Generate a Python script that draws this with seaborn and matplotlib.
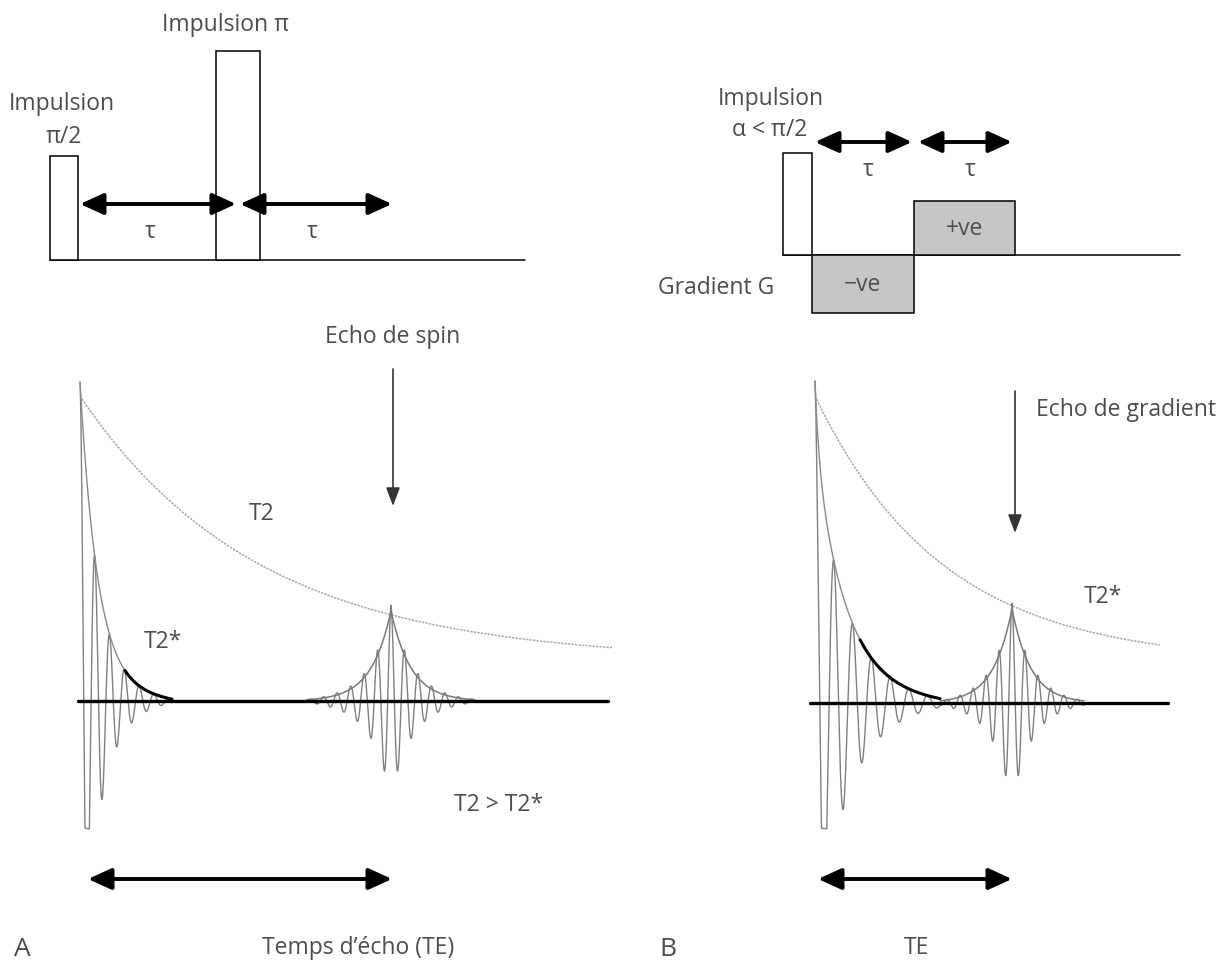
import numpy as np
import matplotlib
matplotlib.use("Agg")
import matplotlib.pyplot as plt
from matplotlib.patches import Rectangle, FancyArrowPatch
import seaborn as sns

sns.set_theme(style="white")
plt.rcParams["font.family"] = ["Open Sans", "DejaVu Sans"]

TXT = "#4d4d4d"
FS = 16.5

# ---------------- data (drawing units = pixels of the figure) ----------------
# Panel A : spin-echo sequence
seqA_base_y = 261
seqA_base_x = [50, 525]
seqA_pulse_x0 = [50, 216]
seqA_pulse_x1 = [78, 260]
seqA_pulse_top = [157, 52]
seqA_tau_from = [80, 240]
seqA_tau_to = [236, 392]
seqA_tau_y = 205
seqA_tau_label_x = [150, 312]
seqA_tau_label_y = 232

# Panel B : gradient-echo sequence
seqB_base_y = 256
seqB_base_x = [783, 1180]
seqB_pulse = [783, 812, 154]
seqB_grad_x0 = [812, 914]
seqB_grad_x1 = [914, 1015]
seqB_grad_level = [314, 202]
seqB_grad_labels = ["\u2212ve", "+ve"]
seqB_tau_from = [815, 918]
seqB_tau_to = [912, 1012]
seqB_tau_y = 143
seqB_tau_label_x = [868, 970]
seqB_tau_label_y = 170

# Signals: FID and echo parameters
fid_x0 = [80, 815]          # start of FID
fid_zero = [702, 704]       # zero line level
fid_slow_amp = [309, 246]   # slow T2* component
fid_slow_tau = [18, 31]
fid_fast_amp = [0, 67]      # initial spike component
fid_fast_tau = [4, 4]
fid_floor = [10, 9]
fid_len = [92, 125]
fid_period = [14.8, 18.8]
fid_bottom = [830, 830]
fid_thick_from = [125, 860]

echo_x = [391, 1012]
echo_height = [90, 94]
echo_tau = [20, 19]
echo_period = [13.5, 13]
echo_halfwidth = [84, 72]

zero_line_x = [(78, 608), (810, 1168)]

t2_x = [(82, 612), (815, 1160)]
t2_amp = [265, 267]
t2_tau = [178, 128]
t2_offset = [40, 40]

# ---------------- figure ----------------
fig = plt.figure(figsize=(12.19, 9.70), dpi=100)
ax = fig.add_axes([0, 0, 1, 1])
ax.set_xlim(0, 1219)
ax.set_ylim(970, 0)
ax.axis("off")


def line(x, y, **kw):
    sns.lineplot(x=np.asarray(x, float), y=np.asarray(y, float), ax=ax,
                 sort=False, estimator=None, legend=False, **kw)


def dbl_arrow(x0, x1, y):
    ax.add_patch(FancyArrowPatch((x0, y), (x1, y),
                                 arrowstyle="<|-|>,head_length=1.1,head_width=0.5",
                                 mutation_scale=13, lw=2.8, color="black",
                                 shrinkA=0, shrinkB=0, zorder=6))


def down_arrow(x, y0, y1):
    ax.add_patch(FancyArrowPatch((x, y0), (x, y1),
                                 arrowstyle="-|>,head_length=0.8,head_width=0.3",
                                 mutation_scale=14, lw=1.2, color="#333333",
                                 shrinkA=0, shrinkB=0))


def txt(x, y, s, ha="center", size=FS):
    ax.text(x, y, s, ha=ha, va="center", fontsize=size, color=TXT)


def fid_env(i, t):
    return (fid_slow_amp[i] * np.exp(-t / fid_slow_tau[i])
            + fid_fast_amp[i] * np.exp(-t / fid_fast_tau[i])
            + fid_floor[i] * (1 - t / fid_len[i]))


# ---- Panel A sequence ----
line(seqA_base_x, [seqA_base_y] * 2, color="black", lw=1.1)
for x0, x1, top in zip(seqA_pulse_x0, seqA_pulse_x1, seqA_pulse_top):
    ax.add_patch(Rectangle((x0, top), x1 - x0, seqA_base_y - top,
                           facecolor="white", edgecolor="black", lw=1.1, zorder=3))
for a, b in zip(seqA_tau_from, seqA_tau_to):
    dbl_arrow(a, b, seqA_tau_y)
for lx in seqA_tau_label_x:
    txt(lx, seqA_tau_label_y, "\u03c4")
txt(62, 104, "Impulsion")
txt(64, 137, "\u03c0/2")
txt(226, 25, "Impulsion \u03c0")

# ---- Panel B sequence ----
line(seqB_base_x, [seqB_base_y] * 2, color="black", lw=1.1)
ax.add_patch(Rectangle((seqB_pulse[0], seqB_pulse[2]), seqB_pulse[1] - seqB_pulse[0],
                       seqB_base_y - seqB_pulse[2], facecolor="white",
                       edgecolor="black", lw=1.1, zorder=3))
for x0, x1, lev, lab in zip(seqB_grad_x0, seqB_grad_x1, seqB_grad_level, seqB_grad_labels):
    ybot, ytop = min(lev, seqB_base_y), max(lev, seqB_base_y)
    ax.add_patch(Rectangle((x0, ybot), x1 - x0, ytop - ybot,
                           facecolor="#c6c6c6", edgecolor="black", lw=1.1, zorder=3))
    ax.text((x0 + x1) / 2, (ybot + ytop) / 2, lab, ha="center", va="center",
            fontsize=FS, color=TXT, zorder=4)
for a, b in zip(seqB_tau_from, seqB_tau_to):
    dbl_arrow(a, b, seqB_tau_y)
for lx in seqB_tau_label_x:
    txt(lx, seqB_tau_label_y, "\u03c4")
txt(771, 99, "Impulsion")
txt(770, 130, "\u03b1 < \u03c0/2")
txt(716, 288, "Gradient G")

# ---- signals ----
for i in range(2):
    z = fid_zero[i]
    # T2 (dotted light) decay curve
    xs = np.linspace(t2_x[i][0], t2_x[i][1], 600)
    ys = z - (t2_amp[i] * np.exp(-(xs - fid_x0[i]) / t2_tau[i]) + t2_offset[i])
    line(xs, ys, color="#a8a8a8", lw=1.1, linestyle=(0, (1.5, 0.8)))

    # FID
    t = np.linspace(0, fid_len[i], 4000)
    env = fid_env(i, t)
    sig = z - env * np.cos(2 * np.pi * t / fid_period[i])
    sig = np.where(sig > fid_bottom[i], np.nan, sig)
    line(fid_x0[i] + t, sig, color="#808080", lw=1.0)
    # T2* envelope (thin grey then thick black)
    te = np.linspace(0, fid_len[i], 800)
    ee = fid_env(i, te)
    xe = fid_x0[i] + te
    line(xe, z - ee, color="#8a8a8a", lw=1.0)
    m = xe >= fid_thick_from[i]
    line(xe[m], z - ee[m], color="black", lw=2.2)

    # echo
    W = echo_halfwidth[i]
    tt = np.linspace(-W, W, 3000)
    envs = echo_height[i] * np.exp(-np.abs(tt) / echo_tau[i]) + 6 * (1 - np.abs(tt) / W)
    sig = z - envs * np.cos(2 * np.pi * tt / echo_period[i])
    line(echo_x[i] + tt, sig, color="#808080", lw=1.0)
    enc = echo_height[i] * np.exp(-np.abs(tt) / echo_tau[i])
    line(echo_x[i] + tt, z - enc, color="#7a7a7a", lw=1.1)

    # zero line
    line(list(zero_line_x[i]), [z, z], color="black", lw=2.4)

# ---- annotations ----
txt(393, 337, "Echo de spin")
down_arrow(393, 370, 507)
down_arrow(1015, 392, 534)
txt(1036, 410, "Echo de gradient", ha="left")
txt(262, 514, "T2")
txt(163, 642, "T2*")
txt(1103, 597, "T2*")
txt(499, 805, "T2 > T2*")

dbl_arrow(88, 392, 880)
dbl_arrow(818, 1012, 880)
txt(358, 948, "Temps d\u2019\u00e9cho (TE)")
txt(916, 948, "TE")
txt(22, 950, "A", size=19)
txt(668, 950, "B", size=19)

fig.savefig("out.png", dpi=100, facecolor="white")
